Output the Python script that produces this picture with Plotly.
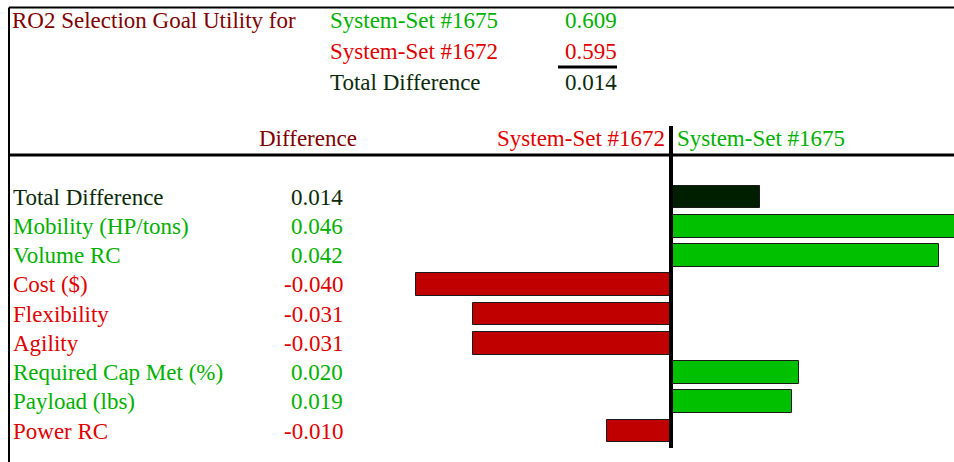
import plotly.graph_objects as go

# Goal utility of the two system sets being compared
set_a_name = "System-Set #1675"
set_b_name = "System-Set #1672"
set_a_utility = 0.609
set_b_utility = 0.595
total_diff = 0.014

# Per-attribute utility differences (#1675 minus #1672)
attributes = [
    "Total Difference",
    "Mobility (HP/tons)",
    "Volume RC",
    "Cost ($)",
    "Flexibility",
    "Agility",
    "Required Cap Met (%)",
    "Payload (lbs)",
    "Power RC",
]
differences = [0.014, 0.046, 0.042, -0.040, -0.031, -0.031, 0.020, 0.019, -0.010]

W, H = 954, 462
FONT = "Liberation Serif, Times New Roman, serif"
FS = 23

MAROON = "#800000"
GREEN_TXT = "#00b000"
RED_TXT = "#e00000"
DARK_TXT = "#0a2a0a"
BAR_GREEN = "#00c000"
BAR_RED = "#c00000"
BAR_TOTAL = "#001f00"


def px(x):
    return x / W


def py(y):
    return 1 - y / H


def bar_color(name, v):
    if name == "Total Difference":
        return BAR_TOTAL
    return BAR_GREEN if v >= 0 else BAR_RED


def text_color(name, v):
    if name == "Total Difference":
        return DARK_TXT
    return GREEN_TXT if v >= 0 else RED_TXT


fig = go.Figure(
    go.Bar(
        x=differences,
        y=attributes,
        orientation="h",
        width=0.77,
        marker=dict(
            color=[bar_color(n, v) for n, v in zip(attributes, differences)],
            line=dict(color="#1a1a1a", width=1),
        ),
        hoverinfo="skip",
    )
)

annotations = []


def add_text(text, x, y, color, xanchor="left", xref="paper", yref="paper"):
    annotations.append(
        dict(
            text=text, x=x, y=y, xref=xref, yref=yref,
            xanchor=xanchor, yanchor="middle", showarrow=False,
            font=dict(family=FONT, size=FS, color=color),
        )
    )


# Summary block at the top
add_text("RO2 Selection Goal Utility for", px(10), py(21), MAROON)
add_text(set_a_name, px(328), py(21), GREEN_TXT)
add_text(set_b_name, px(328), py(52), RED_TXT)
add_text("Total Difference", px(328), py(83), DARK_TXT)
add_text(f"{set_a_utility:.3f}", px(619), py(21), GREEN_TXT, xanchor="right")
add_text(f"{set_b_utility:.3f}", px(619), py(52), RED_TXT, xanchor="right")
add_text(f"{total_diff:.3f}", px(619), py(83), DARK_TXT, xanchor="right")

# Column headers
add_text("Difference", px(308), py(138), MAROON, xanchor="center")
add_text(set_b_name, px(667), py(138), RED_TXT, xanchor="right")
add_text(set_a_name, px(675), py(138), GREEN_TXT, xanchor="left")

# Row labels and difference values
for name, v in zip(attributes, differences):
    c = text_color(name, v)
    add_text(name, px(11), name, c, yref="y")
    add_text(f"{v:.3f}", px(345), name, c, xanchor="right", yref="y")

shapes = [
    # outer frame (top and left)
    dict(type="line", xref="paper", yref="paper", x0=px(9), x1=1, y0=py(7.5), y1=py(7.5),
         line=dict(color="black", width=2)),
    dict(type="line", xref="paper", yref="paper", x0=px(9), x1=px(9), y0=py(7.5), y1=0,
         line=dict(color="black", width=2)),
    # underline beneath the second utility
    dict(type="line", xref="paper", yref="paper", x0=px(558), x1=px(617), y0=py(67), y1=py(67),
         line=dict(color="black", width=3)),
    # header rule
    dict(type="line", xref="paper", yref="paper", x0=px(9), x1=1, y0=py(155), y1=py(155),
         line=dict(color="black", width=3)),
    # zero line
    dict(type="line", xref="x", yref="paper", x0=0, x1=0, y0=py(126), y1=py(448),
         line=dict(color="black", width=4)),
]

zero_px = 671
px_per_unit = 6380
n = len(attributes)
first_row_px, row_px = 197, 29.25

fig.update_layout(
    width=W,
    height=H,
    margin=dict(l=0, r=0, t=0, b=0),
    paper_bgcolor="white",
    plot_bgcolor="white",
    showlegend=False,
    bargap=0,
    xaxis=dict(
        range=[-zero_px / px_per_unit, (W - zero_px) / px_per_unit],
        visible=False, showgrid=False, zeroline=False, fixedrange=True,
    ),
    yaxis=dict(
        type="category",
        categoryorder="array",
        categoryarray=attributes,
        range=[(n - 1) + (H - (first_row_px + (n - 1) * row_px)) / row_px,
               -first_row_px / row_px],
        visible=False, showgrid=False, zeroline=False, fixedrange=True,
    ),
    annotations=annotations,
    shapes=shapes,
)

fig.write_html("out.html")
